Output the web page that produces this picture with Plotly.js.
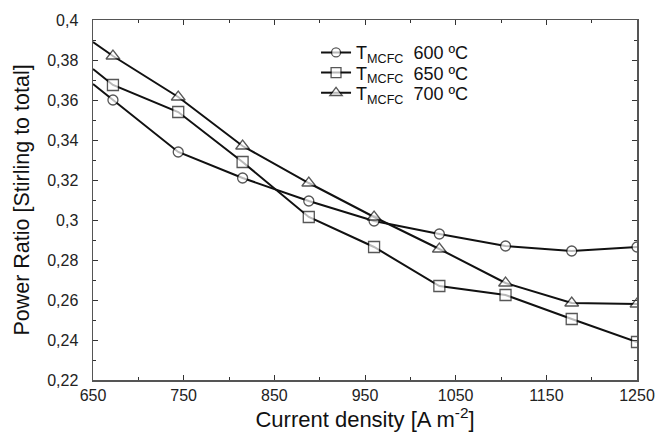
<!DOCTYPE html>
<html>
<head>
<meta charset="utf-8">
<script src="https://cdn.plot.ly/plotly-3.0.1.min.js"></script>
<style>html,body{margin:0;padding:0;background:#fff;}#chart{width:672px;height:441px;}</style>
</head>
<body>
<div id="chart"></div>
<script>
var currentDensity = [650, 672, 744, 815, 888, 960, 1032, 1105, 1178, 1250];
var ratio600 = [0.368, 0.360, 0.334, 0.321, 0.3095, 0.2995, 0.293, 0.287, 0.2845, 0.2865];
var ratio650 = [0.3755, 0.3675, 0.354, 0.329, 0.3015, 0.2865, 0.267, 0.2625, 0.2505, 0.239];
var ratio700 = [0.389, 0.382, 0.3615, 0.337, 0.3185, 0.3015, 0.2855, 0.2685, 0.2585, 0.258];
var seriesNames = ['T<sub>MCFC</sub>  600 ºC', 'T<sub>MCFC</sub>  650 ºC', 'T<sub>MCFC</sub>  700 ºC'];
var xTickVals = [650, 750, 850, 950, 1050, 1150, 1250];
var xTickText = ['650', '750', '850', '950', '1050', '1150', '1250'];
var yTickVals = [0.22, 0.24, 0.26, 0.28, 0.30, 0.32, 0.34, 0.36, 0.38, 0.40];
var yTickText = ['0,22', '0,24', '0,26', '0,28', '0,3', '0,32', '0,34', '0,36', '0,38', '0,4'];

function sizes(s) { return currentDensity.map(function (v, i) { return i === 0 ? 0 : s; }); }

var symbols = ['circle', 'square', 'triangle-up'];
var msizes = [10, 11, 12];
var ys = [ratio600, ratio650, ratio700];
var legendIds = ['legend', 'legend2', 'legend3'];
var traces = ys.map(function (y, k) {
  return {
    x: currentDensity, y: y, name: seriesNames[k], type: 'scatter', mode: 'lines+markers',
    legend: legendIds[k], cliponaxis: true,
    line: {color: '#111', width: 2},
    marker: {symbol: symbols[k], size: sizes(msizes[k]), color: '#fff', line: {color: '#111', width: 1.3}}
  };
});

var font = 'Arial, "Liberation Sans", sans-serif';
function leg(rowY) {
  return {x: 0.41, y: rowY, xanchor: 'left', yanchor: 'middle', bgcolor: 'rgba(0,0,0,0)',
          borderwidth: 0, font: {size: 18, family: font, color: '#111'}};
}
var layout = {
  width: 672, height: 441,
  margin: {l: 93, r: 35, t: 20, b: 61},
  paper_bgcolor: '#fff', plot_bgcolor: '#fff',
  font: {family: font, color: '#111', size: 15},
  showlegend: true,
  legend: leg(0.909),
  legend2: leg(0.853),
  legend3: leg(0.797),
  xaxis: {
    range: [650, 1250], tickvals: xTickVals, ticktext: xTickText,
    showgrid: false, zeroline: false, showline: true, linecolor: '#555', linewidth: 1.5,
    mirror: 'allticks', ticks: 'inside', ticklen: 5, tickcolor: '#333',
    minor: {dtick: 50, ticks: 'inside', ticklen: 3, tickcolor: '#333', showgrid: false},
    tickfont: {size: 16, family: font, color: '#222'},
    title: {text: 'Current density [A m<sup>-2</sup>]', font: {size: 22, family: font, color: '#111'}, standoff: 0}
  },
  yaxis: {
    range: [0.22, 0.40], tickvals: yTickVals, ticktext: yTickText,
    showgrid: false, zeroline: false, showline: true, linecolor: '#555', linewidth: 1.5,
    mirror: 'allticks', ticks: 'inside', ticklen: 5, tickcolor: '#333',
    minor: {dtick: 0.01, ticks: 'inside', ticklen: 3, tickcolor: '#333', showgrid: false},
    tickfont: {size: 16, family: font, color: '#222'}, ticklabelstandoff: 10,
    title: {text: 'Power Ratio [Stirling to total]', font: {size: 21.5, family: font, color: '#111'}, standoff: 11}
  }
};
Plotly.newPlot('chart', traces, layout, {displayModeBar: false, staticPlot: true});
</script>
</body>
</html>
